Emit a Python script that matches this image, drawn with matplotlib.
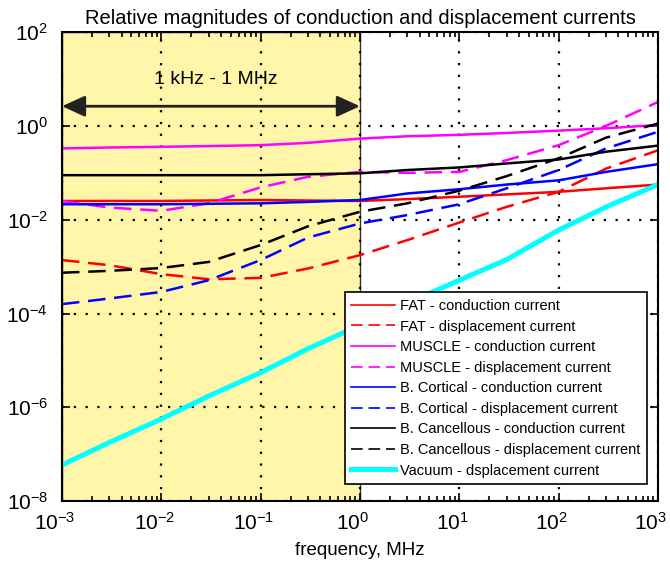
import numpy as np
import matplotlib
matplotlib.use("Agg")
from matplotlib import pyplot as plt
from matplotlib.ticker import FixedLocator, LogLocator, LogFormatterMathtext, NullLocator
from matplotlib.patches import FancyArrowPatch
from matplotlib.transforms import ScaledTranslation

plt.rcParams["font.family"] = ["Liberation Sans", "DejaVu Sans"]
plt.rcParams["mathtext.fontset"] = "custom"
plt.rcParams["mathtext.rm"] = "Liberation Sans"

# frequency samples, MHz
freq = [1e-3, 3e-3, 1e-2, 3e-2, 1e-1, 3e-1, 1, 3, 10, 30, 100, 300, 1000]

# curve values as log10 of the relative magnitude
fat_cond = [-1.60, -1.60, -1.60, -1.59, -1.58, -1.59, -1.60, -1.56, -1.51, -1.46, -1.405, -1.33, -1.25]
fat_disp = [-2.86, -2.97, -3.16, -3.27, -3.24, -3.04, -2.755, -2.435, -2.06, -1.725, -1.405, -0.91, -0.52]
muscle_cond = [-0.48, -0.46, -0.445, -0.43, -0.41, -0.36, -0.27, -0.22, -0.19, -0.15, -0.10, -0.05, 0.02]
muscle_disp = [-1.60, -1.74, -1.81, -1.65, -1.31, -1.085, -0.98, -1.0, -0.98, -0.73, -0.41, 0.0, 0.51]
cort_cond = [-1.67, -1.67, -1.67, -1.66, -1.65, -1.62, -1.58, -1.44, -1.35, -1.25, -1.16, -0.98, -0.815]
cort_disp = [-3.80, -3.68, -3.54, -3.29, -2.86, -2.38, -2.08, -1.90, -1.67, -1.33, -0.94, -0.48, -0.125]
canc_cond = [-1.05, -1.05, -1.05, -1.05, -1.05, -1.03, -1.01, -0.94, -0.885, -0.80, -0.715, -0.55, -0.42]
canc_disp = [-3.13, -3.09, -3.03, -2.90, -2.54, -2.14, -1.83, -1.65, -1.38, -1.07, -0.69, -0.25, 0.05]
vacuum_disp = [-7.23, -6.75, -6.25, -5.76, -5.26, -4.75, -4.25, -3.78, -3.29, -2.85, -2.22, -1.73, -1.25]

labels = ["FAT - conduction current", "FAT - displacement current",
          "MUSCLE - conduction current", "MUSCLE - displacement current",
          "B. Cortical - conduction current", "B. Cortical - displacement current",
          "B. Cancellous - conduction current", "B. Cancellous - displacement current",
          "Vacuum - dsplacement current"]

xticks = [1e-3, 1e-2, 1e-1, 1e0, 1e1, 1e2, 1e3]
yticks = [1e-8, 1e-6, 1e-4, 1e-2, 1e0, 1e2]

fig = plt.figure(figsize=(6.7, 5.74), dpi=100)
ax = fig.add_axes([0.0925, 0.127, 0.8895, 0.817])

# shaded band 1 kHz - 1 MHz
ax.axvspan(1e-3, 1e0, facecolor="#fff6aa", edgecolor="#333333", lw=1, zorder=0.5)

dash = (0, (7, 3.5))
series = [
    (fat_cond, "red", "-", 1.8),
    (fat_disp, "red", dash, 1.8),
    (muscle_cond, "magenta", "-", 1.8),
    (muscle_disp, "magenta", dash, 1.8),
    (cort_cond, "blue", "-", 1.8),
    (cort_disp, "blue", dash, 1.8),
    (canc_cond, "black", "-", 1.8),
    (canc_disp, "black", dash, 1.8),
    (vacuum_disp, "cyan", "-", 3.6),
]
f = np.array(freq)
for (vals, col, ls, lw), lab in zip(series, labels):
    ax.plot(f, 10 ** np.array(vals), color=col, ls=ls, lw=lw, label=lab)

ax.set_xscale("log")
ax.set_yscale("log")
ax.set_xlim(1e-3, 1e3)
ax.set_ylim(1e-8, 1e2)

ax.xaxis.set_major_locator(FixedLocator(xticks))
ax.xaxis.set_minor_locator(LogLocator(base=10, subs=np.arange(2, 10), numticks=10))
ax.xaxis.set_major_formatter(LogFormatterMathtext())
ax.yaxis.set_major_locator(FixedLocator(yticks))
ax.yaxis.set_minor_locator(NullLocator())
ax.yaxis.set_major_formatter(LogFormatterMathtext())

ax.tick_params(which="both", direction="in", top=True, right=True, width=1.2)
ax.tick_params(which="major", length=6, labelsize=15)
ax.tick_params(axis="x", which="major", pad=8)
ax.tick_params(axis="y", which="major", pad=10)
ax.tick_params(which="minor", length=3.5)
for s in ax.spines.values():
    s.set_linewidth(1.5)

# x labels sit with the mantissa left of the tick
shift = ScaledTranslation(-7 / 100, 0, fig.dpi_scale_trans)
for lbl in ax.get_xticklabels():
    lbl.set_transform(lbl.get_transform() + shift)

ax.grid(True, which="major", color="black", ls=(0, (1, 4.3)), lw=1.6)

# range arrow
arr = FancyArrowPatch((1e-3, 10 ** 0.42), (1e0, 10 ** 0.42),
                      arrowstyle="<|-|>,head_length=0.7,head_width=0.32",
                      mutation_scale=20, lw=2, color="#222222",
                      shrinkA=0, shrinkB=0, zorder=3)
ax.add_patch(arr)
ax.text(10 ** -1.45, 10 ** 0.98, "1 kHz - 1 MHz", ha="center", va="center", fontsize=14)

ax.set_title("Relative magnitudes of conduction and displacement currents", fontsize=14.5, pad=6)
ax.set_xlabel("frequency, MHz", fontsize=13.5, labelpad=6)

leg = ax.legend(loc="lower right", bbox_to_anchor=(1 - 11 / 596, 17 / 469),
                fontsize=10.5, handlelength=3.0, handletextpad=0.35,
                labelspacing=0.45, borderaxespad=0, borderpad=0.45,
                fancybox=False, framealpha=1, edgecolor="black")
leg.get_frame().set_linewidth(1.2)
for ln in leg.get_lines()[:-1]:
    ln.set_linewidth(1.2)

fig.savefig("out.png", dpi=100)
